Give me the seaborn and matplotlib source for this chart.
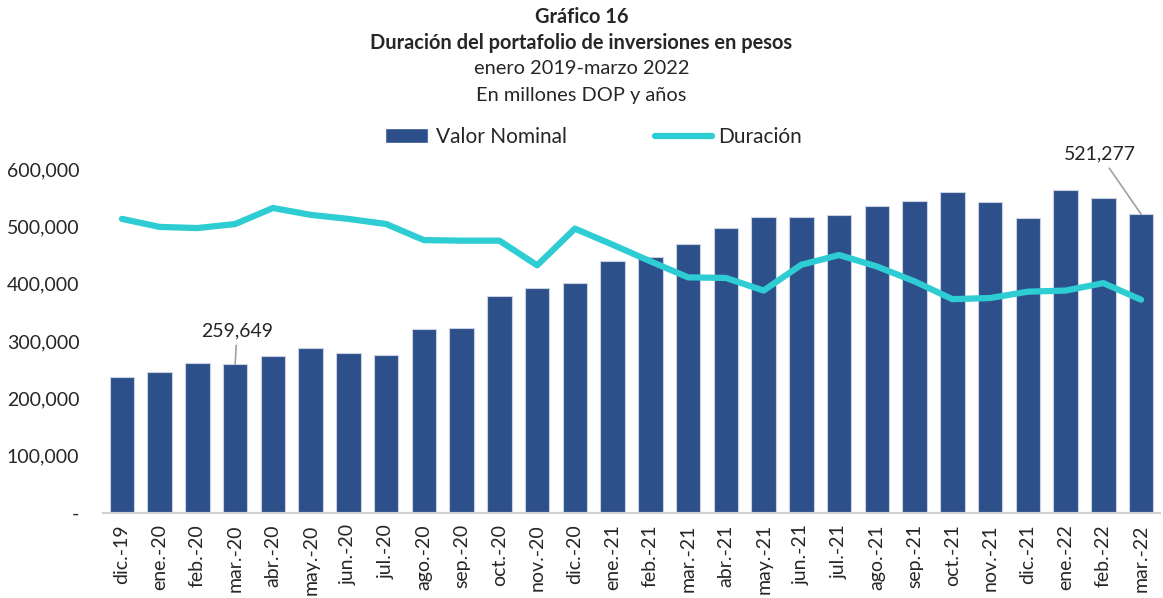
import numpy as np
import pandas as pd
import seaborn as sns
import matplotlib.pyplot as plt
from matplotlib.patches import Patch
from matplotlib.lines import Line2D
from matplotlib.ticker import FuncFormatter

# Data
meses = ["dic.-19", "ene.-20", "feb.-20", "mar.-20", "abr.-20", "may.-20", "jun.-20",
         "jul.-20", "ago.-20", "sep.-20", "oct.-20", "nov.-20", "dic.-20", "ene.-21",
         "feb.-21", "mar.-21", "abr.-21", "may.-21", "jun.-21", "jul.-21", "ago.-21",
         "sep.-21", "oct.-21", "nov.-21", "dic.-21", "ene.-22", "feb.-22", "mar.-22"]
valor_nominal = [237000, 246000, 261000, 259649, 274000, 288000, 279000,
                 276000, 321000, 323000, 379000, 392000, 401000, 439000,
                 447000, 469000, 497000, 517000, 516000, 520000, 535000,
                 544000, 560000, 543000, 514000, 564000, 550000, 521277]
# duration in years (secondary axis, hidden)
duracion = [5.13, 4.99, 4.97, 5.04, 5.32, 5.20, 5.13,
            5.04, 4.76, 4.75, 4.75, 4.32, 4.96, 4.68,
            4.39, 4.11, 4.10, 3.88, 4.33, 4.50, 4.30,
            4.04, 3.73, 3.75, 3.86, 3.88, 4.01, 3.72]

df = pd.DataFrame({"mes": meses, "valor": valor_nominal, "duracion": duracion})

bar_color = "#2D4F8A"
line_color = "#2ECCD3"

sns.set_style("white")
plt.rcParams["font.family"] = ["Lato", "DejaVu Sans"]

fig = plt.figure(figsize=(11.63, 5.98), dpi=100)
ax = fig.add_axes([0.0886, 0.1421, 0.9088, 0.5753])

sns.barplot(data=df, x="mes", y="valor", color=bar_color, width=0.65,
            edgecolor="#C9D2E3", linewidth=0.8, saturation=1, ax=ax)

ax2 = ax.twinx()
sns.lineplot(x=np.arange(len(meses)), y=df["duracion"], color=line_color,
             linewidth=4.5, ax=ax2)

ax.set_ylim(0, 600000)
ax2.set_ylim(0, 6)
ax.set_xlim(-0.5, len(meses) - 0.5)
ax.set_xlabel("")
ax.set_ylabel("")
ax2.set_ylabel("")

ax.yaxis.set_major_formatter(FuncFormatter(lambda v, p: "-" if v == 0 else f"{v:,.0f}"))
ax.tick_params(axis="y", length=0, labelsize=14, pad=17)
ax.tick_params(axis="x", length=0, labelsize=14, rotation=90, pad=8)
ax.set_xticks(np.arange(len(meses)) - 0.5, minor=True)
ax.tick_params(axis="x", which="minor", length=6, color="#D0D0D0", width=1.5)
ax2.set_yticks([])

for a in (ax, ax2):
    for s in ["top", "right", "left"]:
        a.spines[s].set_visible(False)
    a.spines["bottom"].set_color("#D0D0D0")
    a.spines["bottom"].set_linewidth(1.5)

# data labels with leader lines
leader = dict(arrowstyle="-", color="#A0A0A0", lw=1.2, shrinkA=2, shrinkB=0)
ax.annotate("259,649", xy=(3, 259649), xytext=(3.05, 303000), ha="center", va="bottom",
            fontsize=14, arrowprops=leader)
ax.annotate("521,277", xy=(27, 521277), xytext=(25.9, 611000), ha="center", va="bottom",
            fontsize=14, arrowprops=leader, annotation_clip=False)

# titles
fig.text(0.5, 0.972, "Gráfico 16", ha="center", va="center", fontsize=14.4, fontweight="bold")
fig.text(0.5, 0.928, "Duración del portafolio de inversiones en pesos", ha="center",
         va="center", fontsize=14.4, fontweight="bold")
fig.text(0.5, 0.885, "enero 2019-marzo 2022", ha="center", va="center", fontsize=14.4)
fig.text(0.5, 0.841, "En millones DOP y años", ha="center", va="center", fontsize=14.4)

# legend, two parts so each handle gets its own length
leg1 = fig.legend(handles=[Patch(facecolor=bar_color, label="Valor Nominal")],
                  loc="center left", bbox_to_anchor=(385 / 1163, 0.771), frameon=False,
                  fontsize=15, handlelength=2.05, handleheight=0.75, borderpad=0,
                  borderaxespad=0, handletextpad=0.4)
fig.legend(handles=[Line2D([0], [0], color=line_color, lw=4.5, label="Duración")],
           loc="center left", bbox_to_anchor=(655 / 1163, 0.771), frameon=False,
           fontsize=15, handlelength=2.75, borderpad=0, borderaxespad=0,
           handletextpad=0.3)

fig.savefig("out.png", dpi=100)
